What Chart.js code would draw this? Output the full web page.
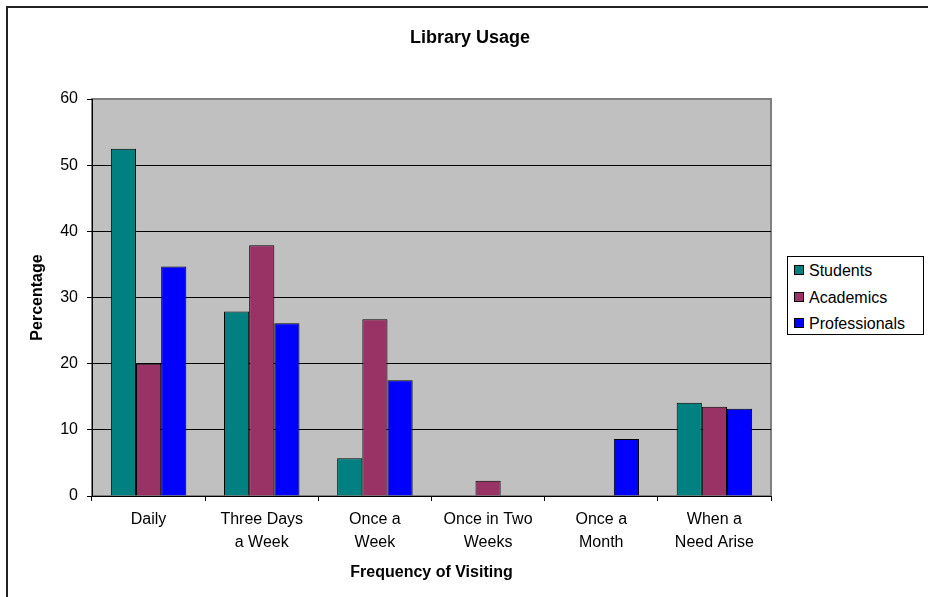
<!DOCTYPE html>
<html>
<head>
<meta charset="utf-8">
<title>Library Usage</title>
<script src="https://cdn.jsdelivr.net/npm/chart.js@4.4.1/dist/chart.umd.min.js"></script>
<style>
  html, body { margin: 0; padding: 0; background: #fff; }
  #wrap { position: relative; width: 928px; height: 597px; overflow: hidden; }
  #frame { position: absolute; left: 6px; top: 6px; width: 1000px; height: 1000px;
           border-left: 2px solid #222; border-top: 2px solid #222; }
  #chart { position: absolute; left: 0; top: 0; }
  #title { position: absolute; left: 370px; width: 200px; top: 27px; text-align: center;
           font: bold 18px "Liberation Sans", Arial, sans-serif; color: #000; }
  #legend { position: absolute; left: 787px; top: 256px; width: 135px; height: 77px;
            border: 1px solid #000; background: #fff; font: 16px "Liberation Sans", Arial, sans-serif; }
  #legend div { position: absolute; left: 6px; height: 20px; line-height: 20px; white-space: nowrap; }
  #legend span.sw { display: inline-block; width: 8px; height: 8px; border: 1px solid #000;
                    margin-right: 5px; vertical-align: 1px; }
</style>
</head>
<body>
<div id="wrap">
  <div id="frame"></div>
  <canvas id="chart" width="928" height="597"></canvas>
  <div id="title">Library Usage</div>
  <div id="legend"></div>
</div>
<script>
// categories and values
const categories = [
    ['Daily'],
    ['Three Days', 'a Week'],
    ['Once a', 'Week'],
    ['Once in Two', 'Weeks'],
    ['Once a', 'Month'],
    ['When a', 'Need Arise']
];
const seriesNames = ['Students', 'Academics', 'Professionals'];
const students = [52.5, 27.9, 5.7, 0, 0, 14.1];
const academics = [20.0, 37.9, 26.7, 2.3, 0, 13.5];
const professionals = [34.7, 26.1, 17.5, 0, 8.6, 13.2];
const seriesColors = ['#008080', '#993366', '#0000FF'];
const yTicks = [0, 10, 20, 30, 40, 50, 60];

const FONT = '"Liberation Sans", Arial, sans-serif';

// grey plot area with grey border, like the old spreadsheet chart
const plotBackground = {
    id: 'plotBackground',
    beforeDraw: function (chart) {
        const a = chart.chartArea;
        const ctx = chart.ctx;
        ctx.save();
        ctx.fillStyle = '#C0C0C0';
        ctx.fillRect(a.left, a.top, a.right - a.left, a.bottom - a.top);
        ctx.strokeStyle = '#808080';
        ctx.lineWidth = 2;
        ctx.strokeRect(a.left, a.top, a.right - a.left, a.bottom - a.top);
        ctx.restore();
    }
};

const allValues = [students, academics, professionals];

const data = {
    labels: categories,
    datasets: seriesNames.map(function (name, i) {
        return {
            label: name,
            data: allValues[i],
            backgroundColor: seriesColors[i],
            borderColor: '#000',
            borderWidth: 1,
            borderSkipped: 'bottom',
            categoryPercentage: 0.667,
            barPercentage: 1.0
        };
    })
};

const config = {
    type: 'bar',
    data: data,
    options: {
        responsive: false,
        animation: false,
        layout: {
            padding: { left: 10, top: 99, right: 157, bottom: 11 }
        },
        plugins: {
            legend: { display: false },
            tooltip: { enabled: false }
        },
        scales: {
            x: {
                afterFit: function (scale) { scale.height = 90; },
                grid: {
                    offset: true,
                    drawOnChartArea: false,
                    drawTicks: true,
                    tickLength: 5,
                    tickColor: '#000'
                },
                border: { color: '#000', width: 1 },
                ticks: {
                    color: '#000',
                    padding: 7,
                    maxRotation: 0,
                    autoSkip: false,
                    font: { family: FONT, size: 16, lineHeight: 1.45 }
                },
                title: {
                    display: true,
                    text: 'Frequency of Visiting',
                    color: '#000',
                    font: { family: FONT, size: 16, weight: 'bold' },
                    padding: { top: 0, bottom: 4 }
                }
            },
            y: {
                min: 0,
                max: 60,
                afterFit: function (scale) { scale.width = 82; },
                afterBuildTicks: function (scale) {
                    scale.ticks = yTicks.map(function (v) { return { value: v }; });
                },
                grid: {
                    color: function (c) {
                        return c.tick && c.tick.value === 60 ? '#808080' : '#000';
                    },
                    tickColor: '#000',
                    tickLength: 5
                },
                border: { color: '#000', width: 1 },
                ticks: {
                    color: '#000',
                    padding: 9,
                    font: { family: FONT, size: 16 }
                },
                title: {
                    display: true,
                    text: 'Percentage',
                    color: '#000',
                    font: { family: FONT, size: 16, weight: 'bold' },
                    padding: { top: 18, bottom: 0 }
                }
            }
        }
    },
    plugins: [plotBackground]
};

new Chart(document.getElementById('chart').getContext('2d'), config);

// legend box on the right
const legend = document.getElementById('legend');
seriesNames.forEach(function (name, i) {
    const row = document.createElement('div');
    row.style.top = (4 + i * 26.5) + 'px';
    row.innerHTML = '<span class="sw" style="background:' + seriesColors[i] + '"></span>' + name;
    legend.appendChild(row);
});
</script>
</body>
</html>
